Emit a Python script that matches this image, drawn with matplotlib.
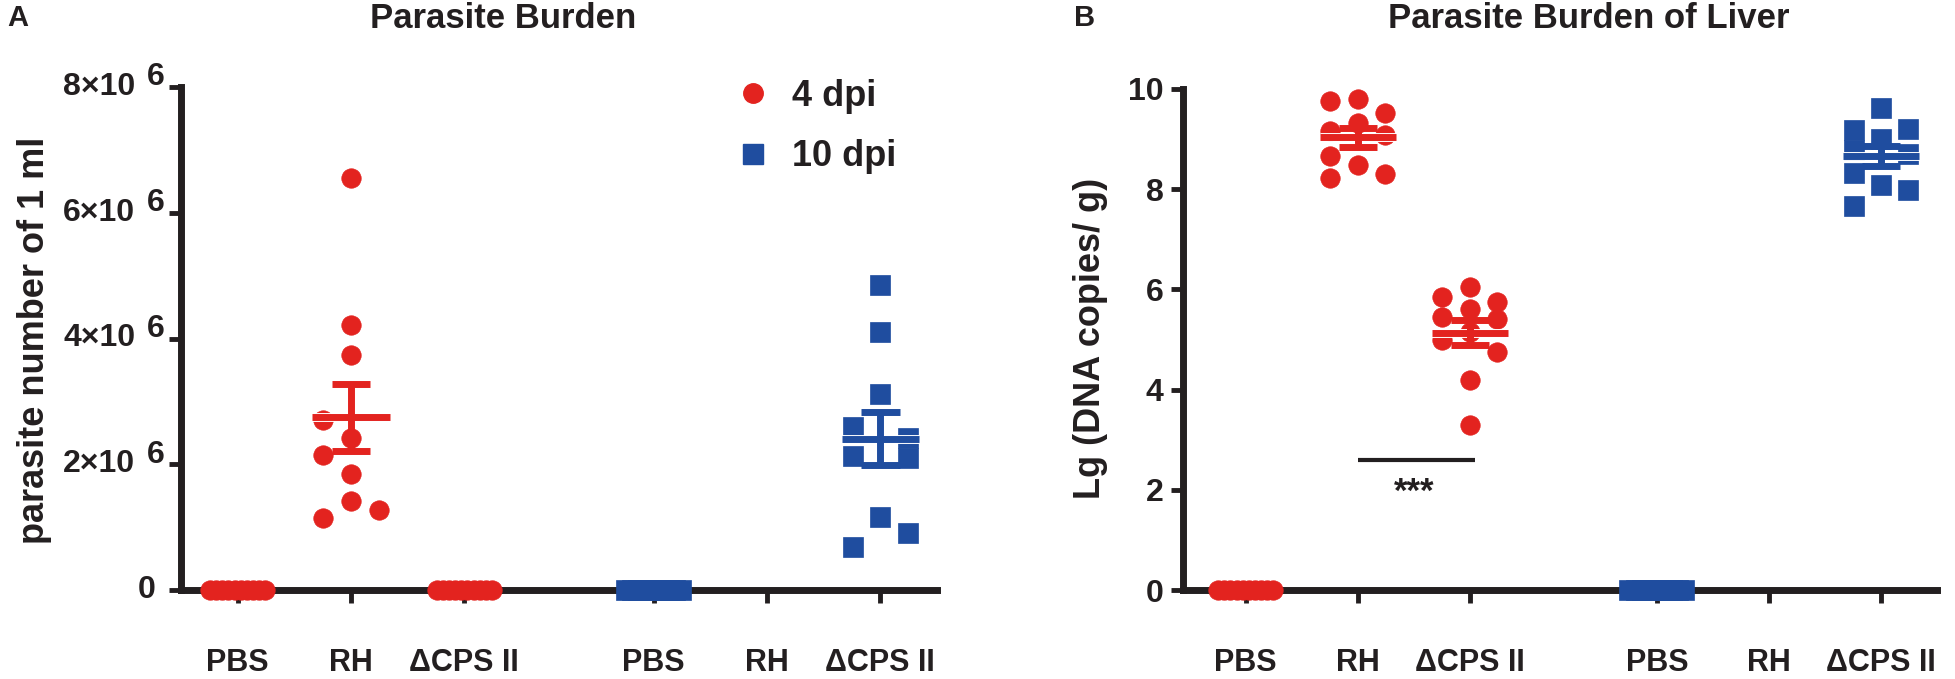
import numpy as np
import matplotlib
matplotlib.use('Agg')
import matplotlib.pyplot as plt
import matplotlib.patheffects as pe
from matplotlib.lines import Line2D

plt.rcParams['font.family'] = ['Liberation Sans', 'DejaVu Sans']
plt.rcParams['font.weight'] = 'bold'

RED = '#e3231f'
BLUE = '#1f4d9f'
INK = '#231f20'

groups = ['PBS', 'RH', 'ΔCPS II', 'PBS', 'RH', 'ΔCPS II']
group_pos = [0, 1, 2, 3.67, 4.67, 5.67]

# panel A: parasite number of 1 ml (x10^6)
a_pbs_4dpi = [0, 0, 0, 0, 0, 0, 0, 0, 0, 0]
a_rh_4dpi = [6.56, 4.22, 3.73, 2.71, 2.42, 2.15, 1.84, 1.42, 1.28, 1.14]
a_cps_4dpi = [0, 0, 0, 0, 0, 0, 0, 0, 0, 0]
a_pbs_10dpi = [0, 0, 0, 0, 0, 0, 0, 0, 0, 0]
a_cps_10dpi = [4.85, 4.10, 3.12, 2.59, 2.13, 2.42, 2.10, 1.16, 0.91, 0.69]

# panel B: Lg (DNA copies / g)
b_pbs_4dpi = [0, 0, 0, 0, 0, 0, 0, 0, 0, 0]
b_rh_4dpi = [9.77, 9.80, 9.53, 9.17, 9.33, 9.08, 8.67, 8.48, 8.23, 8.30]
b_cps_4dpi = [6.05, 5.85, 5.75, 5.60, 5.45, 5.40, 5.15, 5.00, 4.75, 4.20, 3.30]
b_pbs_10dpi = [0, 0, 0, 0, 0, 0, 0, 0, 0, 0]
b_cps_10dpi = [9.62, 9.19, 9.20, 9.00, 8.79, 8.70, 8.33, 8.08, 7.98, 7.67]

# column of each point inside its scatter (-1 left, 0 middle, 1 right)
a_rh_cols = [0, 0, 0, -1, 0, -1, 0, 0, 1, -1]
a_cps10_cols = [0, 0, 0, -1, -1, 1, 1, 0, 1, -1]
b_rh_cols = [-1, 0, 1, -1, 0, 1, -1, 0, -1, 1]
b_cps4_cols = [0, -1, 1, 0, -1, 1, 0, -1, 1, 0, 0]
b_cps10_cols = [0, -1, 1, 0, -1, 1, -1, 0, 1, -1]

SPREAD = 0.245
MS = 14


def draw_group(ax, x, vals, color, marker, cols=None):
    vals = np.asarray(vals, float)
    if cols is None:
        cols = np.linspace(-1, 1, len(vals))
    xs = x + np.asarray(cols, float) * SPREAD
    ax.plot(xs, vals, ls='none', marker=marker, ms=MS, mfc=color, mec=color,
            mew=0.5, zorder=3, clip_on=False)
    if vals.max() <= 0:
        return
    m = vals.mean()
    se = vals.std(ddof=1) / np.sqrt(len(vals))
    ax.plot([x - 0.34, x + 0.34], [m, m], color=color, lw=5, solid_capstyle='butt', zorder=4,
            path_effects=[pe.Stroke(linewidth=6.4, foreground='white'), pe.Normal()])
    ax.plot([x, x], [m - se, m + se], color=color, lw=5, solid_capstyle='butt', zorder=5)
    for y in (m - se, m + se):
        ax.plot([x - 0.17, x + 0.17], [y, y], color=color, lw=5, solid_capstyle='butt', zorder=5)


def style_axes(ax, left_margin):
    for s in ('top', 'right'):
        ax.spines[s].set_visible(False)
    for s in ('left', 'bottom'):
        ax.spines[s].set_linewidth(5)
        ax.spines[s].set_color(INK)
        ax.spines[s].set_capstyle('projecting')
    ax.set_xlim(-left_margin, 6.17)
    ax.set_xticks(group_pos, groups)
    ax.tick_params(axis='x', length=9, width=3.5, color=INK, pad=33, labelsize=22, labelcolor=INK)
    ax.tick_params(axis='y', length=9, width=3.5, color=INK, labelsize=23, labelcolor=INK)


fig = plt.figure(figsize=(19.55, 6.79), dpi=100)

# ---- panel A
ax_a = fig.add_axes([181 / 1955, 89 / 679, 756 / 1955, 503 / 679])
scale = 1e6
draw_group(ax_a, group_pos[0], np.array(a_pbs_4dpi) * scale, RED, 'o')
draw_group(ax_a, group_pos[1], np.array(a_rh_4dpi) * scale, RED, 'o', a_rh_cols)
draw_group(ax_a, group_pos[2], np.array(a_cps_4dpi) * scale, RED, 'o')
draw_group(ax_a, group_pos[3], np.array(a_pbs_10dpi) * scale, BLUE, 's')
draw_group(ax_a, group_pos[5], np.array(a_cps_10dpi) * scale, BLUE, 's', a_cps10_cols)
style_axes(ax_a, 0.5)
ax_a.set_ylim(0, 8e6)
a_ticks = [0, 2e6, 4e6, 6e6, 8e6]
ax_a.set_yticks(a_ticks)
ax_a.set_yticklabels([])
ytr = ax_a.get_yaxis_transform()
for t in a_ticks:
    if t == 0:
        ax_a.annotate('0', xy=(0, t), xycoords=ytr, xytext=(-18, 0), textcoords='offset points',
                      ha='right', va='center', fontsize=23, color=INK)
    else:
        ax_a.annotate('%d×10' % (t / 1e6), xy=(0, t), xycoords=ytr, xytext=(-33, 0),
                      textcoords='offset points', ha='right', va='center', fontsize=23, color=INK)
        ax_a.annotate('6', xy=(0, t), xycoords=ytr, xytext=(-24.5, 7), textcoords='offset points',
                      ha='left', va='center', fontsize=23, color=INK)

handles = [Line2D([], [], ls='none', marker='o', ms=MS, color=RED),
           Line2D([], [], ls='none', marker='s', ms=MS, color=BLUE)]
fig.legend(handles, ['4 dpi', '10 dpi'], loc='upper left', bbox_to_anchor=(738 / 1955, 1 - 79 / 679),
           frameon=False, fontsize=26, handlelength=0.85, handletextpad=0.65, labelspacing=0.7,
           borderpad=0, borderaxespad=0, labelcolor=INK)

# ---- panel B
ax_b = fig.add_axes([1183 / 1955, 89 / 679, 754 / 1955, 501 / 679])
draw_group(ax_b, group_pos[0], b_pbs_4dpi, RED, 'o')
draw_group(ax_b, group_pos[1], b_rh_4dpi, RED, 'o', b_rh_cols)
draw_group(ax_b, group_pos[2], b_cps_4dpi, RED, 'o', b_cps4_cols)
draw_group(ax_b, group_pos[3], b_pbs_10dpi, BLUE, 's')
draw_group(ax_b, group_pos[5], b_cps_10dpi, BLUE, 's', b_cps10_cols)
style_axes(ax_b, 0.56)
ax_b.set_ylim(0, 10)
ax_b.set_yticks([0, 2, 4, 6, 8, 10])
ax_b.tick_params(axis='y', pad=5)

# significance bar RH vs dCPS II at 4 dpi
ax_b.plot([group_pos[1], group_pos[2] + 0.05], [2.6, 2.6], color=INK, lw=3, solid_capstyle='butt')
ax_b.text((group_pos[1] + group_pos[2]) / 2, 1.95, '***', ha='center', va='center',
          fontsize=25, color=INK)

# ---- texts
fig.text(18 / 1955, 1 - 18 / 679, 'A', ha='center', va='center', fontsize=21, color=INK)
fig.text(1085 / 1955, 1 - 18 / 679, 'B', ha='center', va='center', fontsize=21, color=INK)
fig.text(370 / 1955, 1 - 19 / 679, 'Parasite Burden', ha='left', va='center', fontsize=25, color=INK)
fig.text(1388 / 1955, 1 - 19 / 679, 'Parasite Burden of Liver', ha='left', va='center',
         fontsize=25, color=INK)
fig.text(35 / 1955, 1 - 340 / 679, 'parasite number of 1 ml', rotation=90, ha='center', va='center',
         fontsize=26, color=INK)
fig.text(1090 / 1955, 1 - 338 / 679, 'Lg (DNA copies/ g)', rotation=90, ha='center', va='center',
         fontsize=26, color=INK)

fig.savefig('out.png', dpi=100, facecolor='white')
